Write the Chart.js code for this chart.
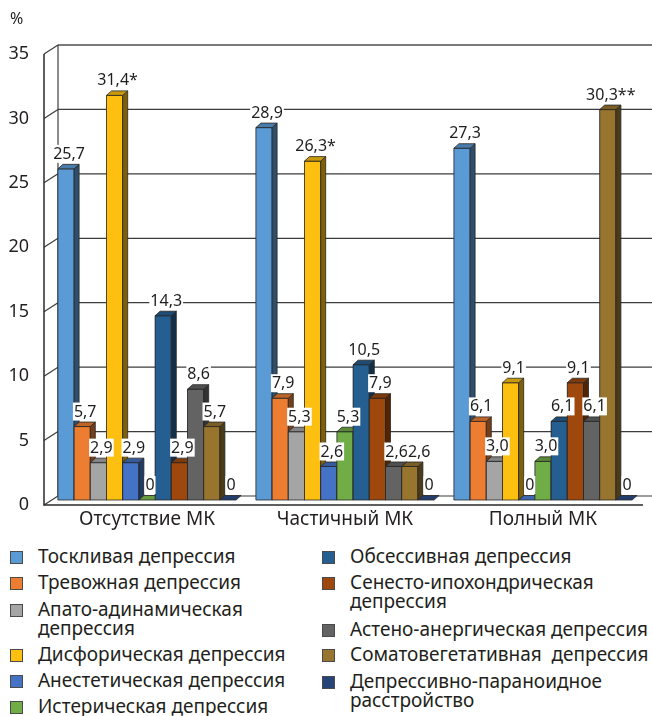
<!DOCTYPE html>
<html><head><meta charset="utf-8">
<script src="https://cdn.jsdelivr.net/npm/chart.js@4.4.0/dist/chart.umd.min.js"></script>
<style>
body{margin:0;background:#fff;width:652px;height:716px;overflow:hidden;position:relative;font-family:"Noto Sans",sans-serif;}
#c{position:absolute;left:0;top:0;}
.li{position:absolute;font-size:19px;line-height:19px;color:#231f20;white-space:pre;}
.sq{position:absolute;width:11px;height:11px;border:1px solid #4a4a4a;}
</style></head><body>
<canvas id="c" width="652" height="540"></canvas>
<div id="legend"></div>
<script>
// ---- data ----
const categories = ['Отсутствие МК', 'Частичный МК', 'Полный МК'];
const seriesNames = [
  'Тоскливая депрессия',
  'Тревожная депрессия',
  'Апато-адинамическая\nдепрессия',
  'Дисфорическая депрессия',
  'Анестетическая депрессия',
  'Истерическая депрессия',
  'Обсессивная депрессия',
  'Сенесто-ипохондрическая\nдепрессия',
  'Астено-анергическая депрессия',
  'Соматовегетативная  депрессия',
  'Депрессивно-параноидное\nрасстройство'
];
const toskl    = [25.7, 28.9, 27.3];
const trevozh  = [5.7, 7.9, 6.1];
const apato    = [2.9, 5.3, 3.0];
const disfor   = [31.4, 26.3, 9.1];
const anestet  = [2.9, 2.6, 0];
const ister    = [0, 5.3, 3.0];
const obsess   = [14.3, 10.5, 6.1];
const senesto  = [2.9, 7.9, 9.1];
const asteno   = [8.6, 2.6, 6.1];
const somato   = [5.7, 2.6, 30.3];
const paranoid = [0, 0, 0];
const seriesValues = [toskl, trevozh, apato, disfor, anestet, ister, obsess, senesto, asteno, somato, paranoid];
// significance marks after the value labels
const disforMarks = ['*', '*', ''];
const somatoMarks = ['', '', '**'];
const seriesMarks = [null, null, null, disforMarks, null, null, null, null, null, somatoMarks, null];
const yMin = 0, yMax = 35, yStep = 5;

// ---- styles ----
const colors = ['#5B9BD5','#ED7D31','#A5A5A5','#FDC010','#4472C4','#70AD47','#255E91','#9E480E','#636363','#98752F','#264478'];
const FONT = '"Noto Sans", sans-serif';
const DX = 5, DY = -4.5;   // bar depth
const WX = 14;             // wall depth (x)
const BACK = -4, FRONT = 5; // wall/front offsets (y)

function shade(hex, f) {
  const n = parseInt(hex.slice(1), 16);
  const r = Math.round(((n >> 16) & 255) * f), g = Math.round(((n >> 8) & 255) * f), b = Math.round((n & 255) * f);
  return `rgb(${r},${g},${b})`;
}
function fmt(v) { return v === 0 ? '0' : v.toFixed(1).replace('.', ','); }

const frame = {
  id: 'frame',
  beforeDatasetsDraw(chart) {
    const { ctx, chartArea: a, scales: { y } } = chart;
    const fl = a.left - 4;
    ctx.save();
    y.ticks.forEach(t => {
      const py = y.getPixelForValue(t.value);
      const top = t.value === yMax;
      ctx.strokeStyle = top ? '#7a7a7a' : '#3c3c3c';
      ctx.lineWidth = top ? 2 : 1.2;
      ctx.beginPath(); ctx.moveTo(fl + WX, py + BACK); ctx.lineTo(chart.width, py + BACK); ctx.stroke();
      ctx.strokeStyle = '#3c3c3c'; ctx.lineWidth = 1.2;
      ctx.beginPath(); ctx.moveTo(fl, py + FRONT); ctx.lineTo(fl + WX, py + BACK); ctx.stroke();
    });
    const y0 = y.getPixelForValue(yMin), y1 = y.getPixelForValue(yMax);
    ctx.strokeStyle = '#3c3c3c'; ctx.lineWidth = 1.2;
    ctx.beginPath(); ctx.moveTo(fl + WX, y1 + BACK); ctx.lineTo(fl + WX, y0 + BACK); ctx.stroke();
    ctx.strokeStyle = '#2a2a2a'; ctx.lineWidth = 1.5;
    ctx.beginPath(); ctx.moveTo(fl, y1 + FRONT); ctx.lineTo(fl, y0 + FRONT); ctx.lineTo(a.right + 1, y0 + FRONT); ctx.stroke();
    ctx.fillStyle = '#231f20';
    ctx.font = '16px ' + FONT;
    ctx.textBaseline = 'middle';
    ctx.fillText('%', 10, 19);
    ctx.restore();
  },
  afterDatasetsDraw(chart) {
    const { ctx } = chart;
    ctx.save();
    // 3D bars, painted left to right so each bar covers its neighbour's side
    ctx.strokeStyle = '#262626';
    ctx.lineWidth = 0.8;
    ctx.lineJoin = 'round';
    for (let j = 0; j < categories.length; j++) {
      for (let i = 0; i < seriesValues.length; i++) {
        const el = chart.getDatasetMeta(i).data[j];
        const { x, y, base, width } = el.getProps(['x', 'y', 'base', 'width'], true);
        const c = colors[i];
        const l = x - width / 2, r = x + width / 2;
        const h = base - y;
        if (h > 0.5) {
          ctx.fillStyle = c;
          ctx.fillRect(l, y, width, h);
          ctx.strokeRect(l, y, width, h);
          ctx.fillStyle = shade(c, 0.5);
          ctx.beginPath();
          ctx.moveTo(r, y); ctx.lineTo(r + DX, y + DY); ctx.lineTo(r + DX, base + DY); ctx.lineTo(r, base);
          ctx.closePath(); ctx.fill(); ctx.stroke();
        }
        ctx.fillStyle = h > 0.5 ? shade(c, 0.8) : shade(c, 0.9);
        ctx.beginPath();
        ctx.moveTo(l, y); ctx.lineTo(l + DX, y + DY); ctx.lineTo(r + DX, y + DY); ctx.lineTo(r, y);
        ctx.closePath(); ctx.fill(); ctx.stroke();
      }
    }
    // value labels
    ctx.font = '16px ' + FONT;
    ctx.textBaseline = 'middle';
    ctx.textAlign = 'left';
    for (let j = 0; j < categories.length; j++) {
      let prev = null;
      for (let i = 0; i < seriesValues.length; i++) {
        const el = chart.getDatasetMeta(i).data[j];
        const { x, y } = el.getProps(['x', 'y'], true);
        const v = seriesValues[i][j];
        const txt = fmt(v) + (seriesMarks[i] ? seriesMarks[i][j] : '');
        const w = ctx.measureText(txt).width;
        const cy = y - 15;
        let lx = x + 3 - w / 2;
        if (prev && lx < prev.r && Math.abs(cy - prev.cy) < 17) lx = prev.r;
        ctx.fillStyle = '#fff';
        ctx.fillRect(lx - 1, cy - 9, w + 2, 18);
        ctx.fillStyle = '#1e1e1e';
        ctx.fillText(txt, lx, cy + 0.5);
        prev = { r: lx + w, cy };
      }
    }
    ctx.restore();
  }
};

const datasets = seriesValues.map((vals, i) => ({
  label: seriesNames[i].replace('\n', ' '),
  data: vals,
  backgroundColor: colors[i],
  borderColor: '#262626',
  borderWidth: 1,
  categoryPercentage: 0.9,
  barPercentage: 1.0
}));

new Chart(document.getElementById('c'), {
  type: 'bar',
  data: { labels: categories, datasets },
  options: {
    responsive: false,
    animation: false,
    layout: { padding: { top: 49, right: 10, left: 0, bottom: 0 } },
    plugins: { legend: { display: false }, tooltip: { enabled: false } },
    scales: {
      x: {
        ticks: { font: { size: 19, family: FONT }, color: '#231f20', padding: 8 },
        grid: { display: false, drawTicks: false },
        border: { display: false },
        afterFit(s) { s.height = 40; }
      },
      y: {
        min: yMin, max: yMax,
        ticks: { stepSize: yStep, font: { size: 18, family: FONT }, color: '#231f20', padding: 19, labelOffset: 5 },
        grid: { display: false, drawTicks: false },
        border: { display: false },
        afterFit(s) { s.width = 48; }
      }
    }
  },
  plugins: [frame]
});

// ---- legend (HTML) ----
const legendSlots = [
  [10, 557], [10, 583], [10, 610], [10, 655], [10, 681], [10, 707],
  [322, 557], [322, 583], [322, 630], [322, 655], [322, 682]
];
const lg = document.getElementById('legend');
seriesNames.forEach((name, i) => {
  const [lx, cy] = legendSlots[i];
  const sq = document.createElement('div');
  sq.className = 'sq';
  sq.style.left = lx + 'px';
  sq.style.top = (cy - 6) + 'px';
  sq.style.background = colors[i];
  lg.appendChild(sq);
  const t = document.createElement('div');
  t.className = 'li';
  t.style.left = (lx + 28) + 'px';
  t.style.top = (cy - 10) + 'px';
  t.textContent = name;
  lg.appendChild(t);
});
</script>
</body></html>
